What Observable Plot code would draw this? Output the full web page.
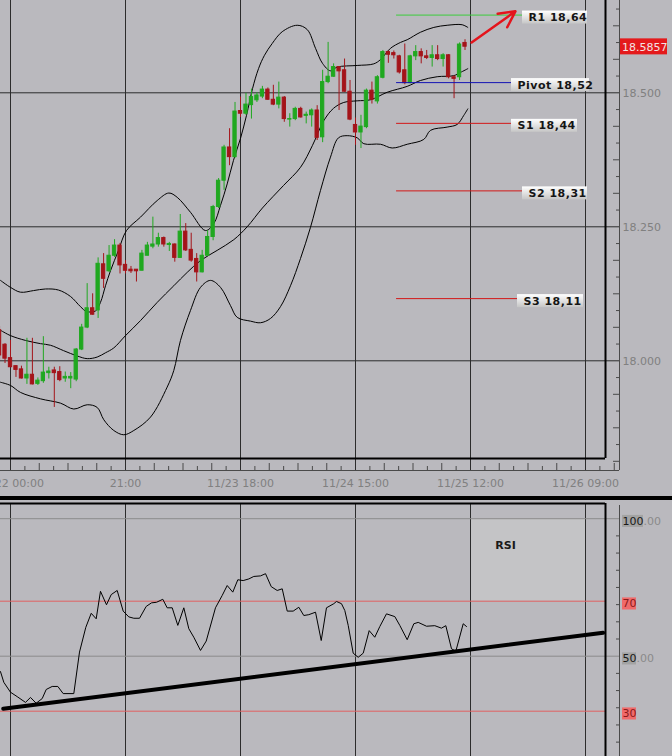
<!DOCTYPE html>
<html><head><meta charset="utf-8">
<script src="https://cdn.jsdelivr.net/npm/d3@7"></script>
<script src="https://cdn.jsdelivr.net/npm/@observablehq/plot@0.6"></script>
<style>
html,body{margin:0;padding:0;background:#bab9be;overflow:hidden;}
#chart{width:672px;height:756px;overflow:hidden;background:#bab9be;}
#sep{height:4px;background:#000;}
svg{display:block;}
.lvl text{letter-spacing:0.5px;}
</style></head><body><div id="chart"></div>
<script>
// ---------------- DATA ----------------
// hourly candles, hour 0 = 11/22 00:00
const firstHour = -2;
const open  = [18.057,18.030,18.005,17.990,17.984,17.967,17.974,17.957,17.962,17.977,17.982,17.979,17.967,17.967,17.965,18.021,18.062,18.098,18.094,18.180,18.167,18.196,18.215,18.179,18.170,18.170,18.168,18.196,18.213,18.217,18.229,18.216,18.217,18.192,18.241,18.207,18.190,18.165,18.196,18.231,18.287,18.336,18.398,18.380,18.466,18.461,18.477,18.486,18.493,18.506,18.487,18.478,18.491,18.450,18.451,18.470,18.457,18.458,18.467,18.417,18.520,18.530,18.548,18.542,18.502,18.440,18.426,18.436,18.504,18.484,18.528,18.576,18.574,18.568,18.542,18.518,18.568,18.576,18.568,18.565,18.570,18.563,18.570,18.529,18.529,18.593];
const high  = [18.064,18.032,18.038,17.991,17.990,18.042,18.042,17.968,18.045,17.988,17.988,17.989,17.979,17.978,18.023,18.068,18.144,18.125,18.192,18.200,18.215,18.226,18.219,18.187,18.176,18.170,18.206,18.221,18.268,18.238,18.231,18.221,18.218,18.273,18.256,18.238,18.200,18.206,18.243,18.290,18.340,18.402,18.433,18.482,18.492,18.499,18.507,18.500,18.512,18.509,18.514,18.520,18.493,18.461,18.473,18.473,18.464,18.470,18.476,18.542,18.594,18.554,18.549,18.563,18.523,18.453,18.458,18.507,18.520,18.532,18.579,18.578,18.578,18.570,18.591,18.570,18.588,18.582,18.579,18.588,18.588,18.573,18.571,18.532,18.593,18.599];
const low   = [18.001,17.995,17.987,17.969,17.966,17.956,17.955,17.954,17.958,17.966,17.913,17.961,17.960,17.948,17.961,18.019,18.060,18.085,18.079,18.135,18.165,18.193,18.162,18.162,18.163,18.147,18.168,18.196,18.209,18.212,18.212,18.204,18.184,18.191,18.204,18.184,18.147,18.164,18.195,18.224,18.284,18.318,18.364,18.378,18.454,18.458,18.451,18.482,18.489,18.486,18.476,18.470,18.445,18.436,18.448,18.453,18.442,18.436,18.411,18.407,18.517,18.529,18.467,18.501,18.448,18.402,18.396,18.433,18.479,18.479,18.526,18.555,18.563,18.535,18.515,18.517,18.560,18.554,18.562,18.548,18.560,18.548,18.526,18.489,18.523,18.579];
const close = [18.010,18.004,17.988,17.983,17.967,17.974,17.956,17.963,17.978,17.980,17.977,17.964,17.970,17.970,18.021,18.062,18.098,18.086,18.181,18.153,18.196,18.215,18.178,18.168,18.167,18.167,18.200,18.215,18.217,18.229,18.217,18.218,18.192,18.241,18.206,18.187,18.165,18.196,18.231,18.287,18.336,18.398,18.380,18.465,18.461,18.478,18.492,18.495,18.506,18.487,18.478,18.491,18.451,18.451,18.470,18.454,18.459,18.467,18.416,18.520,18.530,18.548,18.540,18.502,18.450,18.426,18.437,18.504,18.487,18.529,18.576,18.571,18.570,18.538,18.518,18.568,18.576,18.568,18.565,18.570,18.563,18.570,18.529,18.526,18.590,18.586];

// Bollinger bands [hour, price]
const bbUpper = [[-1.83,18.150],[0,18.137],[1.83,18.128],[4.2,18.131],[6.39,18.134],[8.77,18.132],[10.96,18.120],[12.78,18.101],[13.88,18.092],[15.52,18.093],[16.43,18.109],[17.35,18.140],[18.26,18.168],[19.72,18.206],[21.18,18.243],[23.74,18.268],[26.79,18.299],[28.91,18.313],[30.44,18.305],[32.87,18.277],[35.61,18.243],[37.12,18.256],[38.35,18.290],[39.57,18.330],[40.72,18.374],[42.0,18.415],[43.1,18.458],[44.2,18.508],[45.29,18.545],[46.38,18.570],[47.79,18.592],[49.62,18.614],[52.35,18.626],[54.18,18.618],[55.70,18.583],[56.97,18.555],[58.43,18.541],[59.66,18.548],[63.31,18.551],[66.34,18.554],[67.57,18.562],[69.39,18.583],[71.22,18.594],[72.44,18.599],[74.87,18.613],[77.30,18.622],[79.74,18.626],[82.48,18.627],[83.51,18.622]];
const bbMiddle = [[-1.83,18.057],[0,18.047],[2.74,18.038],[5.48,18.032],[7.30,18.029],[9.68,18.019],[12.18,18.009],[14.01,18.004],[15.83,18.007],[17.35,18.015],[18.86,18.024],[21.0,18.047],[23.74,18.075],[26.79,18.109],[29.82,18.140],[32.27,18.165],[34.70,18.187],[37.74,18.206],[40.78,18.226],[43.22,18.250],[46.0,18.285],[49.85,18.327],[52.96,18.361],[55.15,18.402],[57.21,18.448],[58.98,18.471],[60.86,18.482],[63.31,18.485],[65.74,18.487],[68.79,18.501],[72.44,18.512],[74.87,18.523],[77.92,18.530],[80.95,18.532],[82.17,18.538],[83.51,18.545]];
const bbLower = [[-1.83,17.960],[0,17.954],[1.83,17.941],[5.48,17.929],[9.13,17.921],[11.56,17.910],[14.01,17.918],[15.83,17.913],[17.04,17.890],[18.86,17.870],[20.69,17.862],[22.52,17.870],[25.57,17.895],[28.61,17.951],[29.82,17.982],[31.04,18.038],[32.87,18.094],[34.70,18.137],[36.52,18.150],[38.35,18.137],[40.17,18.103],[41.40,18.081],[43.83,18.074],[45.65,18.071],[47.48,18.079],[49.30,18.101],[51.13,18.140],[52.96,18.191],[54.78,18.249],[56.61,18.318],[58.43,18.380],[59.89,18.416],[61.48,18.420],[63.31,18.416],[64.52,18.405],[67.57,18.404],[69.70,18.397],[72.44,18.404],[75.47,18.413],[76.70,18.430],[79.74,18.436],[81.57,18.441],[82.78,18.458],[83.51,18.470]];

// Pivot levels
const levelNames  = ["R1","Pivot","S1","S2","S3"];
const levelValues = [18.645,18.519,18.443,18.317,18.116];
const levelTexts  = ["R1 18,64","Pivot 18,52","S1 18,44","S2 18,31","S3 18,11"];
const levelStartHour = 70.5;
const currentPrice = 18.5857;
const currentPriceText = "18.5857";
const arrowFrom = [84.2, 18.594];
const arrowTo   = [92.2, 18.652];

// RSI [hour, value]
const rsi = [[-1.83,44.4],[-1.22,40.5],[0,36.9],[1.22,35.3],[2.74,33.2],[3.65,35.0],[4.69,32.9],[5.79,34.6],[6.52,37.9],[7.61,39.0],[8.64,39.0],[9.62,36.4],[11.56,36.4],[12.60,51.5],[13.75,60.5],[14.74,65.6],[15.65,63.6],[16.43,73.6],[17.53,68.7],[18.39,72.4],[19.48,73.9],[20.58,66.4],[21.60,64.3],[22.52,63.8],[23.56,63.8],[24.78,68.1],[25.75,69.4],[26.66,69.6],[27.81,70.7],[28.61,67.6],[29.53,67.6],[30.55,61.2],[31.65,67.6],[32.56,60.0],[33.47,56.9],[34.70,52.1],[35.74,55.5],[37.43,67.6],[38.66,72.1],[39.57,75.7],[40.59,73.3],[41.51,77.8],[42.49,77.5],[43.52,78.1],[44.43,79.0],[45.65,79.2],[46.57,80.0],[47.61,75.3],[48.70,73.9],[49.62,74.5],[50.53,66.4],[51.62,66.4],[52.65,67.8],[53.56,64.8],[54.47,65.1],[55.70,66.0],[56.74,55.7],[57.70,67.6],[59.04,69.1],[59.53,69.9],[60.44,69.1],[61.05,66.6],[61.67,61.2],[62.58,51.1],[63.49,49.6],[64.41,51.1],[65.50,59.3],[66.52,56.9],[67.44,60.8],[68.66,65.4],[70.18,64.4],[71.09,61.2],[72.44,56.0],[73.65,61.8],[74.45,62.3],[75.97,60.9],[77.48,61.1],[78.70,60.2],[79.49,61.1],[80.53,52.7],[81.32,51.8],[82.67,61.8],[83.27,60.8]];
const rsiTrend = [[-1.33,30.87],[108.23,58.51]];
const rsiLevels = [100,70,50,30];
const rsiLevelMain = ["100","70","50","30"];
const rsiLevelSuffix = [".00","",".00",""];

// axis ticks & labels
const xMajor = [0,21,42,63,84,105];
const xLabels = ["11/22 00:00","21:00","11/23 18:00","11/24 15:00","11/25 12:00","11/26 09:00"];
const yMajor = [18.0,18.25,18.5];

// ---------------- LAYOUT ----------------
const PXH = 115/21;           // px per hour
const PXP = 536;              // px per price unit
const X0 = 10;                // px of hour 0
const AXIS_PX = 619, FRAME_PX = 605;
const DIGIT = 7;              // approx. digit width at 11px
const hAt = px => (px - X0)/PXH;
const priceAt = py => 18.5 + (92.3 - py)/PXP;
const rsiAt = py => 100 - (py - 18.2)/2.75;
const xDomain = [hAt(0), hAt(AXIS_PX)];
const frameRight = hAt(FRAME_PX);
const priceDomain = [priceAt(470), priceAt(0)];
const frameBottom = priceAt(458);
const rsiDomain = [rsiAt(256), rsiAt(0)];
const rsiFrameTop = rsiAt(3);
const labelLeftPx = [522,511,511,522,517];
const labelWidthPx = [65,78,66,65,66];
const rsiTitle = {t: hAt(505), v: rsiAt(45)};

const gridC = "#2c2c2c", axisC = "#4a4a4a", txtC = "#808080";
const upC = "#20a820", downC = "#a4141a";
const levelColors = ["#3ccc3c","#1414b4","#d21818","#d21818","#d21818"];
const font = {fontFamily:"DejaVu Sans, sans-serif", fontSize:"11px", background:"transparent", overflow:"visible"};

// ---------------- BUILD ----------------
const candles = open.map((o,i)=>({t:firstHour+i,o,h:high[i],l:low[i],c:close[i]}));
const ups = candles.filter(d=>d.c>=d.o), downs = candles.filter(d=>d.c<d.o);
const hw = 0.3;
const levels = levelValues.map((v,i)=>({name:levelNames[i],v,text:levelTexts[i],
  x1:hAt(labelLeftPx[i]), x2:hAt(labelLeftPx[i]+labelWidthPx[i]), color:levelColors[i]}));
const xLabelMap = new Map(xMajor.map((v,i)=>[v,xLabels[i]]));
const yTicksAll = d3.range(570,598);
const yLongTicks = yTicksAll.filter(k=>k%2===0 && k%8!==0).map(k=>k/32);
const yShortTicks = yTicksAll.filter(k=>k%2===1).map(k=>k/32);
const xTicksAll = d3.range(0,43);
const xLongTicks = xTicksAll.filter(k=>k%2===0 && k%8!==0).map(k=>k*21/8);
const xShortTicks = xTicksAll.filter(k=>k%2===1).map(k=>k*21/8);
const bandLine = (d)=>Plot.line(d,{x:p=>p[0],y:p=>p[1],stroke:"#000",strokeWidth:1,curve:"catmull-rom"});

const topSvg = Plot.plot({
  width:672, height:496, marginTop:0, marginLeft:0, marginRight:53, marginBottom:26,
  style:font,
  x:{domain:xDomain}, y:{domain:priceDomain},
  marks:[
    Plot.ruleX(xMajor,{stroke:gridC}),
    Plot.ruleY(yMajor,{stroke:gridC}),
    bandLine(bbUpper), bandLine(bbMiddle), bandLine(bbLower),
    Plot.ruleX(ups,{x:"t",y1:"l",y2:"h",stroke:upC}),
    Plot.ruleX(downs,{x:"t",y1:"l",y2:"h",stroke:downC}),
    Plot.rect(ups,{x1:d=>d.t-hw,x2:d=>d.t+hw,y1:"o",y2:"c",fill:upC,stroke:upC}),
    Plot.rect(downs,{x1:d=>d.t-hw,x2:d=>d.t+hw,y1:"o",y2:"c",fill:downC,stroke:downC}),
    Plot.ruleY(levels,{y:"v",x1:()=>levelStartHour,x2:"x1",stroke:"color",strokeWidth:1}),
    Plot.rect(levels,{x1:"x1",x2:"x2",y1:d=>d.v-9/PXP,y2:d=>d.v+4/PXP,fill:"url(#lblGrad)"}),
    Plot.text(levels,{x:"x1",y:"v",text:"text",dx:6,dy:2.5,textAnchor:"start",fontWeight:"bold",fontSize:11,fill:"#151515",className:"lvl"}),
    Plot.arrow([{a:arrowFrom,b:arrowTo}],{x1:d=>d.a[0],y1:d=>d.a[1],x2:d=>d.b[0],y2:d=>d.b[1],stroke:"#e4141c",strokeWidth:2.5,headLength:14,headAngle:55}),
    // frame
    Plot.ruleX([frameRight],{y1:frameBottom,y2:priceDomain[1],stroke:"#000",strokeWidth:2}),
    Plot.ruleY([frameBottom],{x1:xDomain[0],x2:frameRight,stroke:"#000",strokeWidth:2}),
    // axis lines
    Plot.ruleX([xDomain[1]],{stroke:axisC}),
    Plot.ruleY([priceDomain[0]],{stroke:axisC}),
    Plot.axisX(xLongTicks,{anchor:"bottom",tickSize:7,dy:-7,fill:"none",stroke:axisC,label:null}),
    Plot.axisX(xShortTicks,{anchor:"bottom",tickSize:4,dy:-4,fill:"none",stroke:axisC,label:null}),
    Plot.axisX(xMajor,{anchor:"bottom",tickSize:0,tickPadding:9,tickFormat:d=>xLabelMap.get(d),fill:txtC,fontSize:11,label:null}),
    Plot.axisY(yLongTicks,{anchor:"right",tickSize:7,dx:-7,fill:"none",stroke:axisC,label:null}),
    Plot.axisY(yShortTicks,{anchor:"right",tickSize:4,dx:-4,fill:"none",stroke:axisC,label:null}),
    Plot.axisY(yMajor,{anchor:"right",tickSize:0,tickPadding:3,dy:1,tickFormat:d3.format(".3f"),fill:txtC,fontSize:11,label:null}),
    // current price tag
    Plot.rect([currentPrice],{x1:hAt(620),x2:hAt(667),y1:d=>d-8/PXP,y2:d=>d+8/PXP,fill:"#e41a1c"}),
    Plot.text([currentPrice],{x:hAt(620),y:d=>d,text:()=>currentPriceText,dx:1.5,dy:0.5,textAnchor:"start",fill:"#f3e4e4",fontSize:11})
  ]
});
const defs = d3.select(topSvg).insert("defs",":first-child");
const gr = defs.append("linearGradient").attr("id","lblGrad").attr("x1",0).attr("y1",0).attr("x2",0).attr("y2",1);
gr.append("stop").attr("offset","0%").attr("stop-color","#ffffff");
gr.append("stop").attr("offset","100%").attr("stop-color","#c6c6c6");

const rsiLbl = rsiLevels.map((v,i)=>({v,main:rsiLevelMain[i],suffix:rsiLevelSuffix[i],
  red:(v===70||v===30)}));
const rsiTicks = d3.range(0,14).map(k=>100-6.25*k).filter(v=>v!==100 && v!==50);
const suffixMarks = [3,2].map(n=>Plot.text(rsiLbl.filter(d=>d.suffix && d.main.length===n),
  {x:xDomain[1],y:"v",text:"suffix",dx:3+DIGIT*n,dy:2.5,textAnchor:"start",fontSize:11,fill:"#8a8a8a"}));

const rsiSvg = Plot.plot({
  width:672, height:256, marginTop:0, marginLeft:0, marginRight:53, marginBottom:0,
  style:font,
  x:{domain:xDomain, axis:null}, y:{domain:rsiDomain},
  marks:[
    Plot.rect([{x1:84,x2:105,y1:70,y2:100}],{x1:"x1",x2:"x2",y1:"y1",y2:"y2",fill:"#c4c4c6"}),
    Plot.ruleX(xMajor,{y1:rsiDomain[0],y2:rsiFrameTop,stroke:gridC}),
    Plot.ruleY([100,50],{x1:xDomain[0],x2:xDomain[1],stroke:"#8c8c8c"}),
    Plot.ruleY([70,30],{x1:xDomain[0],x2:frameRight,stroke:"#e06262"}),
    Plot.line(rsi,{x:d=>d[0],y:d=>d[1],stroke:"#000",strokeWidth:1}),
    Plot.line(rsiTrend,{x:d=>d[0],y:d=>d[1],stroke:"#000",strokeWidth:4}),
    Plot.text([rsiTitle],{x:"t",y:"v",text:()=>"RSI",fontWeight:"bold",fontSize:11,fill:"#1a1a1a"}),
    Plot.ruleY([rsiFrameTop],{x1:xDomain[0],x2:frameRight,stroke:"#000",strokeWidth:2}),
    Plot.ruleX([frameRight],{y1:rsiDomain[0],y2:rsiFrameTop,stroke:"#000",strokeWidth:2}),
    Plot.ruleX([xDomain[1]],{y1:rsiDomain[0],y2:rsiAt(5),stroke:axisC}),
    Plot.axisY(rsiTicks,{anchor:"right",tickSize:4,dx:-4,fill:"none",stroke:axisC,label:null}),
    Plot.rect(rsiLbl,{x1:hAt(622),x2:d=>hAt(622+DIGIT*d.main.length),y1:d=>d.v-3.2,y2:d=>d.v+1.2,fill:d=>d.red?"#f06a6a":"#a3a3a3"}),
    Plot.text(rsiLbl,{x:xDomain[1],y:"v",text:"main",dx:3,dy:2.5,textAnchor:"start",fontSize:11,fill:d=>d.red?"#8a1a1a":"#1a1a1a"}),
    ...suffixMarks
  ]
});

const chart = document.getElementById("chart");
const sep = document.createElement("div"); sep.id="sep";
chart.append(topSvg, sep, rsiSvg);
</script></body></html>
